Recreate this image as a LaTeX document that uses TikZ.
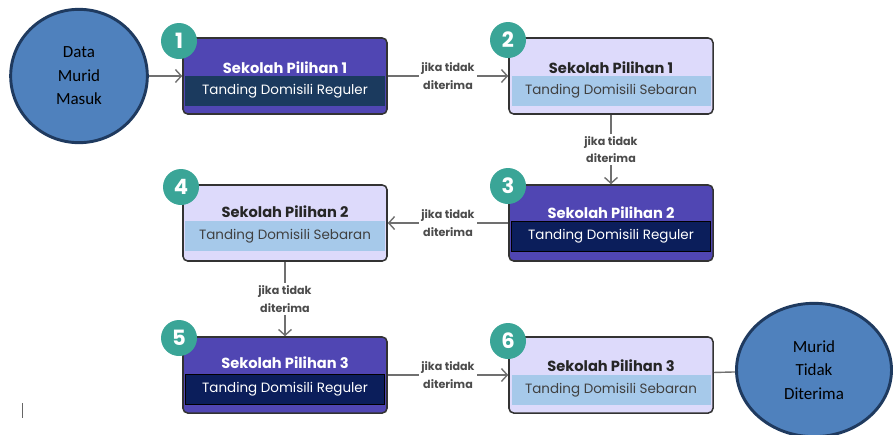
\documentclass[tikz,border=0pt]{standalone}
\usepackage{fontspec}
\setmainfont{Poppins}
\newfontfamily\calibfont{Carlito}
\usetikzlibrary{shapes.geometric}
\usetikzlibrary{arrows.meta}
\definecolor{boxpurple}{HTML}{5046B3}
\definecolor{boxlilac}{HTML}{DDDAFB}
\definecolor{bandnavy}{HTML}{1B3A5E}
\definecolor{banddeep}{HTML}{0B1E5B}
\definecolor{bandsky}{HTML}{A6C9EA}
\definecolor{badgeteal}{HTML}{3AA597}
\definecolor{boxedge}{HTML}{333333}
\definecolor{flowgray}{HTML}{707070}
\definecolor{bubblefill}{HTML}{4F81BD}
\definecolor{bubbleedge}{HTML}{1F3A5F}
\tikzset{
  pilihbox/.style={draw=boxedge, line width=1.3pt, rounded corners=4pt,
    minimum width=6.12cm, minimum height=2.28cm, inner sep=0pt},
  band/.style={minimum width=5.97cm, minimum height=0.9cm, inner sep=0pt,
    font=\fontsize{11.5}{13}\selectfont},
  titletext/.style={font=\fontsize{12.5}{14}\selectfont\bfseries, inner sep=0pt},
  badge/.style={circle, fill=badgeteal, text=white, minimum size=1.08cm,
    inner sep=0pt, font=\fontsize{18}{20}\selectfont\bfseries},
  flow/.style={draw=flowgray, line width=1.2pt,
    -{Straight Barb[length=5pt,width=11pt,line width=1.2pt]}},
  lbl/.style={fill=white, text=black!70, align=center, inner sep=2pt,
    font=\fontsize{9.5}{15}\selectfont\bfseries},
  bubble/.style={ellipse, draw=bubbleedge, fill=bubblefill, line width=2.5pt,
    align=center, font=\calibfont\fontsize{14.5}{20}\selectfont}
}

\begin{document}
\begin{tikzpicture}[x=0.03cm, y=-0.03cm]
  \useasboundingbox (0,0) rectangle (894,434);

  % start and end
  \node[bubble, minimum width=4.1cm, minimum height=4.0cm] (masuk) at (79,76) {Data\\Murid\\Masuk};
  \node[bubble, minimum width=4.65cm, minimum height=4.0cm] (tolak) at (814,370) {Murid\\Tidak\\Diterima};

  % boxes
  \node[pilihbox, fill=boxpurple] (b1) at (285,76) {};
  \node[band, fill=bandnavy, text=white] (b1band) at (285,91) {Tanding Domisili Reguler};
  \node[titletext, text=white] (b1title) at (285,68) {Sekolah Pilihan 1};
  \node[badge] (n1) at (179,41) {1};

  \node[pilihbox, fill=boxlilac] (b2) at (611,76) {};
  \node[band, fill=bandsky, text=black!75] (b2band) at (611,91) {Tanding Domisili Sebaran};
  \node[titletext, text=black!85] (b2title) at (611,68) {Sekolah Pilihan 1};
  \node[badge] (n2) at (508,40) {2};

  \node[pilihbox, fill=boxpurple] (b3) at (611,223) {};
  \node[band, fill=banddeep, draw=black, line width=0.8pt, text=white] (b3band) at (611,236) {Tanding Domisili Reguler};
  \node[titletext, text=white] (b3title) at (611,213) {Sekolah Pilihan 2};
  \node[badge] (n3) at (508,186) {3};

  \node[pilihbox, fill=boxlilac] (b4) at (285,223) {};
  \node[band, fill=bandsky, text=black!75] (b4band) at (285,236) {Tanding Domisili Sebaran};
  \node[titletext, text=black!85] (b4title) at (285,212) {Sekolah Pilihan 2};
  \node[badge] (n4) at (181,187) {4};

  \node[pilihbox, fill=boxpurple] (b5) at (285,375) {};
  \node[band, fill=banddeep, draw=black, line width=0.8pt, text=white] (b5band) at (285,389) {Tanding Domisili Reguler};
  \node[titletext, text=white] (b5title) at (285,363) {Sekolah Pilihan 3};
  \node[badge] (n5) at (179,338) {5};

  \node[pilihbox, fill=boxlilac] (b6) at (611,375) {};
  \node[band, fill=bandsky, text=black!75] (b6band) at (611,390) {Tanding Domisili Sebaran};
  \node[titletext, text=black!85] (b6title) at (611,366) {Sekolah Pilihan 3};
  \node[badge] (n6) at (508,341) {6};

  % connectors
  \draw[flow] (masuk) -- (b1);
  \draw[flow] (b1) -- node[lbl] {jika tidak\\diterima} (b2);
  \draw[flow] (b2) -- node[lbl] {jika tidak\\diterima} (b3);
  \draw[flow] (b3) -- node[lbl] {jika tidak\\diterima} (b4);
  \draw[flow] (b4) -- node[lbl] {jika tidak\\diterima} (b5);
  \draw[flow] (b5) -- node[lbl] {jika tidak\\diterima} (b6);
  \draw[draw=flowgray, line width=1.2pt] (b6) -- (tolak);

  \draw[black!60, line width=0.6pt] (22,403) -- (22,418);
\end{tikzpicture}
\end{document}
